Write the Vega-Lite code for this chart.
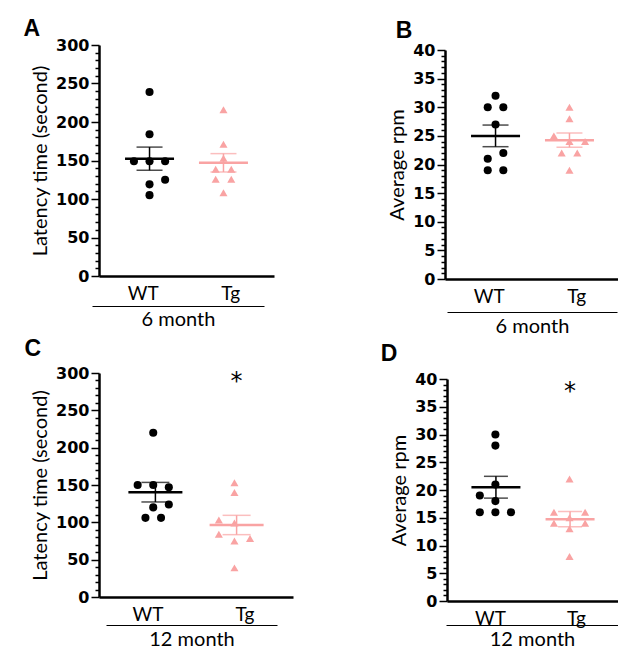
{
  "$schema": "https://vega.github.io/schema/vega-lite/v6.json",
  "padding": {"left": 23, "top": 18, "right": 0, "bottom": 0},
  "datasets": {
    "a": [
      {"group": "WT", "slot": 0, "value": 239},
      {"group": "WT", "slot": 0, "value": 184},
      {"group": "WT", "slot": -2, "value": 149},
      {"group": "WT", "slot": 0, "value": 149},
      {"group": "WT", "slot": 2, "value": 149},
      {"group": "WT", "slot": 2, "value": 125},
      {"group": "WT", "slot": 0, "value": 119},
      {"group": "WT", "slot": 0, "value": 105},
      {"group": "Tg", "slot": 0, "value": 216},
      {"group": "Tg", "slot": 0, "value": 171},
      {"group": "Tg", "slot": 0, "value": 153},
      {"group": "Tg", "slot": -1, "value": 138.5},
      {"group": "Tg", "slot": 1, "value": 138.5},
      {"group": "Tg", "slot": -1, "value": 125.5},
      {"group": "Tg", "slot": 1, "value": 125.5},
      {"group": "Tg", "slot": 0, "value": 108}
    ],
    "b": [
      {"group": "WT", "slot": 0, "value": 32},
      {"group": "WT", "slot": -1, "value": 30},
      {"group": "WT", "slot": 1, "value": 30},
      {"group": "WT", "slot": 0, "value": 27},
      {"group": "WT", "slot": -1, "value": 21},
      {"group": "WT", "slot": 1, "value": 22},
      {"group": "WT", "slot": -1, "value": 19},
      {"group": "WT", "slot": 1, "value": 19},
      {"group": "Tg", "slot": 0, "value": 30},
      {"group": "Tg", "slot": 0, "value": 28},
      {"group": "Tg", "slot": -2, "value": 25},
      {"group": "Tg", "slot": 0, "value": 24},
      {"group": "Tg", "slot": 2, "value": 24},
      {"group": "Tg", "slot": -1, "value": 22},
      {"group": "Tg", "slot": 1, "value": 22},
      {"group": "Tg", "slot": 0, "value": 19}
    ],
    "c": [
      {"group": "WT", "slot": 0, "value": 220},
      {"group": "WT", "slot": -2, "value": 150},
      {"group": "WT", "slot": 0, "value": 150},
      {"group": "WT", "slot": 2, "value": 147},
      {"group": "WT", "slot": 0, "value": 120},
      {"group": "WT", "slot": 2, "value": 124},
      {"group": "WT", "slot": -1, "value": 106},
      {"group": "WT", "slot": 1, "value": 106},
      {"group": "Tg", "slot": 0, "value": 153},
      {"group": "Tg", "slot": 0, "value": 140},
      {"group": "Tg", "slot": -2, "value": 103},
      {"group": "Tg", "slot": 0, "value": 99},
      {"group": "Tg", "slot": -2, "value": 84},
      {"group": "Tg", "slot": 0, "value": 75},
      {"group": "Tg", "slot": 2, "value": 78.5},
      {"group": "Tg", "slot": 0, "value": 39}
    ],
    "d": [
      {"group": "WT", "slot": 0, "value": 30},
      {"group": "WT", "slot": 0, "value": 28},
      {"group": "WT", "slot": 0, "value": 21},
      {"group": "WT", "slot": -2, "value": 19},
      {"group": "WT", "slot": 0, "value": 18},
      {"group": "WT", "slot": -2, "value": 16},
      {"group": "WT", "slot": 0, "value": 16},
      {"group": "WT", "slot": 2, "value": 16},
      {"group": "Tg", "slot": 0, "value": 22},
      {"group": "Tg", "slot": -2, "value": 16},
      {"group": "Tg", "slot": 2, "value": 16},
      {"group": "Tg", "slot": 0, "value": 15},
      {"group": "Tg", "slot": -2, "value": 14},
      {"group": "Tg", "slot": 2, "value": 14},
      {"group": "Tg", "slot": 0, "value": 13},
      {"group": "Tg", "slot": 0, "value": 8}
    ],
    "groups": [
      {"group": "WT", "v": 0},
      {"group": "Tg", "v": 0}
    ]
  },
  "vconcat": [
    {
      "hconcat": [
        {
          "width": 175, "height": 231,
          "title": {"text": "A", "anchor": "start", "frame": "bounds", "dx": -7, "offset": -4},
          "layer": [
            {
              "data": {"name": "a"},
              "layer": [
                {
                  "mark": {"type": "point", "filled": true, "opacity": 1, "size": 65, "strokeWidth": 0},
                  "encoding": {
                    "x": {"field": "group", "type": "nominal", "scale": {"domain": ["WT", "Tg"], "paddingInner": 0.473, "paddingOuter": 0.42}, "axis": null},
                    "xOffset": {"field": "slot", "type": "ordinal", "scale": {"domain": [-2, -1, 0, 1, 2]}},
                    "y": {"field": "value", "type": "quantitative", "scale": {"domain": [0, 300], "nice": false}, "axis": null},
                    "color": {"field": "group", "type": "nominal", "scale": {"domain": ["WT", "Tg"], "range": ["#000000", "#F9A3A3"]}, "legend": null},
                    "shape": {"field": "group", "type": "nominal", "scale": {"domain": ["WT", "Tg"], "range": ["circle", "triangle-up"]}, "legend": null}
                  }
                },
                {
                  "mark": {"type": "tick", "thickness": 2.5, "size": 49},
                  "encoding": {
                    "x": {"field": "group", "type": "nominal", "axis": null},
                    "y": {"aggregate": "mean", "field": "value", "type": "quantitative", "axis": null},
                    "color": {"field": "group", "type": "nominal", "legend": null}
                  }
                },
                {
                  "mark": {"type": "errorbar", "extent": "stderr", "ticks": {"size": 26}, "thickness": 1.5},
                  "encoding": {
                    "x": {"field": "group", "type": "nominal", "axis": null},
                    "y": {"field": "value", "type": "quantitative", "axis": null},
                    "color": {"field": "group", "type": "nominal", "legend": null}
                  }
                }
              ]
            },
            {
              "data": {"name": "groups"},
              "mark": {"type": "point", "opacity": 0},
              "encoding": {
                "x": {"field": "group", "type": "nominal", "scale": {"domain": ["WT", "Tg"], "paddingInner": 0.473, "paddingOuter": 0.42},
                  "axis": {"orient": "bottom", "title": null, "labelAngle": 0, "labelFont": "Lato", "labelFontSize": 19, "labelColor": "black", "labelPadding": 8, "ticks": false, "domainColor": "black", "domainWidth": 2.5}},
                "y": {"field": "v", "type": "quantitative", "scale": {"domain": [0, 300], "nice": false},
                  "axis": {"orient": "left", "title": "Latency time (second)", "titleFont": "Lato", "titleFontSize": 20, "titleFontWeight": "normal", "titleColor": "black", "titlePadding": 5,
                    "values": [0, 50, 100, 150, 200, 250, 300], "labelOverlap": false, "ticks": true,
                    "labelFont": "DejaVu Sans", "labelFontWeight": "bold", "labelFontSize": 16, "labelColor": "black", "labelPadding": 2,
                    "tickColor": "black", "tickWidth": 1.5, "tickSize": 8,
                    "domainColor": "black", "domainWidth": 2.5, "grid": false}}
              }
            },
            {
              "data": {"values": [{"m": "6 month", "v": 0}]},
              "mark": {"type": "point", "opacity": 0},
              "encoding": {
                "x": {"field": "m", "type": "nominal", "scale": {"type": "point", "range": [-7, 165]},
                  "axis": {"orient": "bottom", "offset": 30, "labels": false, "ticks": false, "domainColor": "black", "domainWidth": 1, "title": "6 month", "titleFont": "Lato", "titleFontSize": 20, "titleFontWeight": "normal", "titleColor": "black", "titlePadding": 3}},
                "y": {"field": "v", "type": "quantitative", "scale": {"domain": [0, 300], "nice": false},
                  "axis": {"orient": "left", "title": null, "labels": false, "domain": false, "grid": false, "ticks": true, "tickColor": "black", "tickWidth": 1.5, "tickSize": 4,
                    "values": [10,20,30,40,60,70,80,90,110,120,130,140,160,170,180,190,210,220,230,240,260,270,280,290]}}
              }
            }
          ],
          "resolve": {"scale": {"x": "independent", "y": "independent"}}
        },
        {
          "width": 175, "height": 234,
          "title": {"text": "B", "anchor": "start", "frame": "bounds", "dx": 8, "offset": -0.5},
          "layer": [
            {
              "data": {"name": "b"},
              "layer": [
                {
                  "mark": {"type": "point", "filled": true, "opacity": 1, "size": 65, "strokeWidth": 0},
                  "encoding": {
                    "x": {"field": "group", "type": "nominal", "scale": {"domain": ["WT", "Tg"], "paddingInner": 0.473, "paddingOuter": 0.42}, "axis": null},
                    "xOffset": {"field": "slot", "type": "ordinal", "scale": {"domain": [-2, -1, 0, 1, 2]}},
                    "y": {"field": "value", "type": "quantitative", "scale": {"domain": [0, 40], "nice": false, "range": [234, 5]}, "axis": null},
                    "color": {"field": "group", "type": "nominal", "scale": {"domain": ["WT", "Tg"], "range": ["#000000", "#F9A3A3"]}, "legend": null},
                    "shape": {"field": "group", "type": "nominal", "scale": {"domain": ["WT", "Tg"], "range": ["circle", "triangle-up"]}, "legend": null}
                  }
                },
                {
                  "mark": {"type": "tick", "thickness": 2.5, "size": 49},
                  "encoding": {
                    "x": {"field": "group", "type": "nominal", "axis": null},
                    "y": {"aggregate": "mean", "field": "value", "type": "quantitative", "axis": null},
                    "color": {"field": "group", "type": "nominal", "legend": null}
                  }
                },
                {
                  "mark": {"type": "errorbar", "extent": "stderr", "ticks": {"size": 26}, "thickness": 1.5},
                  "encoding": {
                    "x": {"field": "group", "type": "nominal", "axis": null},
                    "y": {"field": "value", "type": "quantitative", "axis": null},
                    "color": {"field": "group", "type": "nominal", "legend": null}
                  }
                }
              ]
            },
            {
              "data": {"name": "groups"},
              "mark": {"type": "point", "opacity": 0},
              "encoding": {
                "x": {"field": "group", "type": "nominal", "scale": {"domain": ["WT", "Tg"], "paddingInner": 0.473, "paddingOuter": 0.42},
                  "axis": {"orient": "bottom", "title": null, "labelAngle": 0, "labelFont": "Lato", "labelFontSize": 19, "labelColor": "black", "labelPadding": 8, "ticks": false, "domainColor": "black", "domainWidth": 2.5}},
                "y": {"field": "v", "type": "quantitative", "scale": {"domain": [0, 40], "nice": false, "range": [234, 5]},
                  "axis": {"orient": "left", "title": "Average rpm", "titleFont": "Lato", "titleFontSize": 20, "titleFontWeight": "normal", "titleColor": "black", "titlePadding": 5,
                    "values": [0, 5, 10, 15, 20, 25, 30, 35, 40], "labelOverlap": false, "ticks": true,
                    "labelFont": "DejaVu Sans", "labelFontWeight": "bold", "labelFontSize": 16, "labelColor": "black", "labelPadding": 2,
                    "tickColor": "black", "tickWidth": 1.5, "tickSize": 8,
                    "domainColor": "black", "domainWidth": 2.5, "grid": false}}
              }
            },
            {
              "data": {"values": [{"m": "6 month", "v": 0}]},
              "mark": {"type": "point", "opacity": 0},
              "encoding": {
                "x": {"field": "m", "type": "nominal", "scale": {"type": "point", "range": [2, 172]},
                  "axis": {"orient": "bottom", "offset": 33, "labels": false, "ticks": false, "domainColor": "black", "domainWidth": 1, "title": "6 month", "titleFont": "Lato", "titleFontSize": 20, "titleFontWeight": "normal", "titleColor": "black", "titlePadding": 4}},
                "y": {"field": "v", "type": "quantitative", "scale": {"domain": [0, 40], "nice": false, "range": [234, 5]},
                  "axis": {"orient": "left", "title": null, "labels": false, "domain": false, "grid": false, "ticks": true, "tickColor": "black", "tickWidth": 1.5, "tickSize": 4,
                    "values": [1,2,3,4,6,7,8,9,11,12,13,14,16,17,18,19,21,22,23,24,26,27,28,29,31,32,33,34,36,37,38,39]}}
              }
            }
          ],
          "resolve": {"scale": {"x": "independent", "y": "independent"}}
        }
      ],
      "spacing": 113
    },
    {
      "hconcat": [
        {
          "width": 194, "height": 224,
          "title": {"text": "C", "anchor": "start", "frame": "bounds", "dx": -6, "offset": 4},
          "layer": [
            {
              "data": {"name": "c"},
              "layer": [
                {
                  "mark": {"type": "point", "filled": true, "opacity": 1, "size": 65, "strokeWidth": 0},
                  "encoding": {
                    "x": {"field": "group", "type": "nominal", "scale": {"domain": ["WT", "Tg"], "paddingInner": 0.467, "paddingOuter": 0.428}, "axis": null},
                    "xOffset": {"field": "slot", "type": "ordinal", "scale": {"domain": [-2, -1, 0, 1, 2]}},
                    "y": {"field": "value", "type": "quantitative", "scale": {"domain": [0, 300], "nice": false}, "axis": null},
                    "color": {"field": "group", "type": "nominal", "scale": {"domain": ["WT", "Tg"], "range": ["#000000", "#F9A3A3"]}, "legend": null},
                    "shape": {"field": "group", "type": "nominal", "scale": {"domain": ["WT", "Tg"], "range": ["circle", "triangle-up"]}, "legend": null}
                  }
                },
                {
                  "mark": {"type": "tick", "thickness": 2.5, "size": 54},
                  "encoding": {
                    "x": {"field": "group", "type": "nominal", "axis": null},
                    "y": {"aggregate": "mean", "field": "value", "type": "quantitative", "axis": null},
                    "color": {"field": "group", "type": "nominal", "legend": null}
                  }
                },
                {
                  "mark": {"type": "errorbar", "extent": "stderr", "ticks": {"size": 28}, "thickness": 1.5},
                  "encoding": {
                    "x": {"field": "group", "type": "nominal", "axis": null},
                    "y": {"field": "value", "type": "quantitative", "axis": null},
                    "color": {"field": "group", "type": "nominal", "legend": null}
                  }
                },
                {
                  "data": {"values": [{"group": "Tg", "value": 288, "label": "*"}]},
                  "mark": {"type": "text", "font": "DejaVu Sans", "fontSize": 24, "baseline": "middle", "color": "black"},
                  "encoding": {
                    "x": {"field": "group", "type": "nominal", "axis": null},
                    "y": {"field": "value", "type": "quantitative", "axis": null},
                    "text": {"field": "label"}
                  }
                }
              ]
            },
            {
              "data": {"name": "groups"},
              "mark": {"type": "point", "opacity": 0},
              "encoding": {
                "x": {"field": "group", "type": "nominal", "scale": {"domain": ["WT", "Tg"], "paddingInner": 0.467, "paddingOuter": 0.428},
                  "axis": {"orient": "bottom", "title": null, "labelAngle": 0, "labelFont": "Lato", "labelFontSize": 19, "labelColor": "black", "labelPadding": 8, "ticks": false, "domainColor": "black", "domainWidth": 2.5}},
                "y": {"field": "v", "type": "quantitative", "scale": {"domain": [0, 300], "nice": false},
                  "axis": {"orient": "left", "title": "Latency time (second)", "titleFont": "Lato", "titleFontSize": 20, "titleFontWeight": "normal", "titleColor": "black", "titlePadding": 5,
                    "values": [0, 50, 100, 150, 200, 250, 300], "labelOverlap": false, "ticks": true,
                    "labelFont": "DejaVu Sans", "labelFontWeight": "bold", "labelFontSize": 16, "labelColor": "black", "labelPadding": 2,
                    "tickColor": "black", "tickWidth": 1.5, "tickSize": 8,
                    "domainColor": "black", "domainWidth": 2.5, "grid": false}}
              }
            },
            {
              "data": {"values": [{"m": "12 month", "v": 0}]},
              "mark": {"type": "point", "opacity": 0},
              "encoding": {
                "x": {"field": "m", "type": "nominal", "scale": {"type": "point", "range": [7, 178]},
                  "axis": {"orient": "bottom", "offset": 28, "labels": false, "ticks": false, "domainColor": "black", "domainWidth": 1, "title": "12 month", "titleFont": "Lato", "titleFontSize": 20, "titleFontWeight": "normal", "titleColor": "black", "titlePadding": 4}},
                "y": {"field": "v", "type": "quantitative", "scale": {"domain": [0, 300], "nice": false},
                  "axis": {"orient": "left", "title": null, "labels": false, "domain": false, "grid": false, "ticks": true, "tickColor": "black", "tickWidth": 1.5, "tickSize": 4,
                    "values": [10,20,30,40,60,70,80,90,110,120,130,140,160,170,180,190,210,220,230,240,260,270,280,290]}}
              }
            }
          ],
          "resolve": {"scale": {"x": "independent", "y": "independent"}}
        },
        {
          "width": 172, "height": 228,
          "title": {"text": "D", "anchor": "start", "frame": "bounds", "dx": -9, "offset": 5},
          "layer": [
            {
              "data": {"name": "d"},
              "layer": [
                {
                  "mark": {"type": "point", "filled": true, "opacity": 1, "size": 65, "strokeWidth": 0},
                  "encoding": {
                    "x": {"field": "group", "type": "nominal", "scale": {"domain": ["WT", "Tg"], "paddingInner": 0.46, "paddingOuter": 0.39}, "axis": null},
                    "xOffset": {"field": "slot", "type": "ordinal", "scale": {"domain": [-2, -1, 0, 1, 2]}},
                    "y": {"field": "value", "type": "quantitative", "scale": {"domain": [0, 40], "nice": false, "range": [228, 6]}, "axis": null},
                    "color": {"field": "group", "type": "nominal", "scale": {"domain": ["WT", "Tg"], "range": ["#000000", "#F9A3A3"]}, "legend": null},
                    "shape": {"field": "group", "type": "nominal", "scale": {"domain": ["WT", "Tg"], "range": ["circle", "triangle-up"]}, "legend": null}
                  }
                },
                {
                  "mark": {"type": "tick", "thickness": 2.5, "size": 49},
                  "encoding": {
                    "x": {"field": "group", "type": "nominal", "axis": null},
                    "y": {"aggregate": "mean", "field": "value", "type": "quantitative", "axis": null},
                    "color": {"field": "group", "type": "nominal", "legend": null}
                  }
                },
                {
                  "mark": {"type": "errorbar", "extent": "stderr", "ticks": {"size": 24}, "thickness": 1.5},
                  "encoding": {
                    "x": {"field": "group", "type": "nominal", "axis": null},
                    "y": {"field": "value", "type": "quantitative", "axis": null},
                    "color": {"field": "group", "type": "nominal", "legend": null}
                  }
                },
                {
                  "data": {"values": [{"group": "Tg", "value": 37.7, "label": "*"}]},
                  "mark": {"type": "text", "font": "DejaVu Sans", "fontSize": 24, "baseline": "middle", "color": "black"},
                  "encoding": {
                    "x": {"field": "group", "type": "nominal", "axis": null},
                    "y": {"field": "value", "type": "quantitative", "axis": null},
                    "text": {"field": "label"}
                  }
                }
              ]
            },
            {
              "data": {"name": "groups"},
              "mark": {"type": "point", "opacity": 0},
              "encoding": {
                "x": {"field": "group", "type": "nominal", "scale": {"domain": ["WT", "Tg"], "paddingInner": 0.46, "paddingOuter": 0.39},
                  "axis": {"orient": "bottom", "title": null, "labelAngle": 0, "labelFont": "Lato", "labelFontSize": 19, "labelColor": "black", "labelPadding": 8, "ticks": false, "domainColor": "black", "domainWidth": 2.5}},
                "y": {"field": "v", "type": "quantitative", "scale": {"domain": [0, 40], "nice": false, "range": [228, 6]},
                  "axis": {"orient": "left", "title": "Average rpm", "titleFont": "Lato", "titleFontSize": 20, "titleFontWeight": "normal", "titleColor": "black", "titlePadding": 5,
                    "values": [0, 5, 10, 15, 20, 25, 30, 35, 40], "labelOverlap": false, "ticks": true,
                    "labelFont": "DejaVu Sans", "labelFontWeight": "bold", "labelFontSize": 16, "labelColor": "black", "labelPadding": 2,
                    "tickColor": "black", "tickWidth": 1.5, "tickSize": 8,
                    "domainColor": "black", "domainWidth": 2.5, "grid": false}}
              }
            },
            {
              "data": {"values": [{"m": "12 month", "v": 0}]},
              "mark": {"type": "point", "opacity": 0},
              "encoding": {
                "x": {"field": "m", "type": "nominal", "scale": {"type": "point", "range": [-1, 171]},
                  "axis": {"orient": "bottom", "offset": 24, "labels": false, "ticks": false, "domainColor": "black", "domainWidth": 1, "title": "12 month", "titleFont": "Lato", "titleFontSize": 20, "titleFontWeight": "normal", "titleColor": "black", "titlePadding": 4}},
                "y": {"field": "v", "type": "quantitative", "scale": {"domain": [0, 40], "nice": false, "range": [228, 6]},
                  "axis": {"orient": "left", "title": null, "labels": false, "domain": false, "grid": false, "ticks": true, "tickColor": "black", "tickWidth": 1.5, "tickSize": 4,
                    "values": [1,2,3,4,6,7,8,9,11,12,13,14,16,17,18,19,21,22,23,24,26,27,28,29,31,32,33,34,36,37,38,39]}}
              }
            }
          ],
          "resolve": {"scale": {"x": "independent", "y": "independent"}}
        }
      ],
      "spacing": 87
    }
  ],
  "spacing": 2,
  "config": {
    "view": {"stroke": null},
    "title": {"font": "Liberation Sans", "fontSize": 23, "fontWeight": "bold", "color": "black"}
  }
}
